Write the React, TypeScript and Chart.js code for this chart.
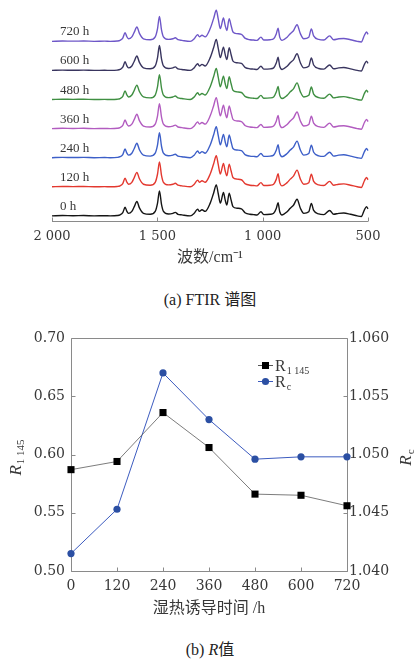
import React, { useEffect, useRef } from "react";
import { Chart, registerables } from "chart.js";

Chart.register(...registerables);

// ---------- (a) FTIR spectra ----------
const wavenumbers = [
  2000, 1950, 1900, 1850, 1800, 1750, 1724, 1690, 1677, 1664, 1653, 1645, 1637, 1621, 1610, 1597, 1585, 1566,
  1534, 1510, 1499, 1490, 1480, 1471, 1447, 1426, 1415, 1402, 1383, 1344, 1325, 1309, 1300, 1288, 1273, 1249,
  1233, 1220, 1211, 1201, 1186, 1178, 1170, 1159, 1150, 1141, 1122, 1101, 1082, 1060, 1043, 1027, 1008, 995,
  964, 948, 935, 927, 919, 908, 884, 869, 853, 837, 821, 805, 781, 769, 758, 734, 710, 682, 663, 639, 615, 583,
  551, 532, 517, 507, 500,
];
const absorbance = [
  0, 0.01, 0.005, 0.01, 0, 0.005, 0, 0.01, 0.03, 0.1, 0.27, 0.15, 0.08, 0.14, 0.28, 0.45, 0.25, 0.08,
  0.05, 0.14, 0.4, 0.78, 0.35, 0.14, 0.06, 0.08, 0.11, 0.05, 0.03, 0, 0.08, 0.21, 0.14, 0.19, 0.14, 0.4,
  0.71, 0.97, 0.7, 0.4, 0.73, 0.5, 0.34, 0.71, 0.5, 0.29, 0.24, 0.22, 0.09, 0.05, 0.04, 0.03, 0.13, 0.04,
  0.05, 0.08, 0.24, 0.41, 0.13, 0.03, 0.13, 0.24, 0.34, 0.52, 0.24, 0.08, 0.13, 0.39, 0.17, 0.06, 0.04, 0.17, 0.05, 0.08, 0.09, 0.05,
  0, -0.02, 0.19, 0.29, 0.22,
];
const spectrumLabels = ["0 h", "120 h", "240 h", "360 h", "480 h", "600 h", "720 h"];
const spectrumOffsets = [0, 0.91, 1.82, 2.73, 3.64, 4.55, 5.46];
const spectrumColors = ["#151515", "#e3382f", "#3d5fc8", "#b25cc0", "#3f8f42", "#39355f", "#6e57c8"];
const ftirTicks = [2000, 1500, 1000, 500];

// ---------- (b) R values ----------
const hours = [0, 120, 240, 360, 480, 600, 720];
const r1145 = [0.587, 0.594, 0.636, 0.606, 0.566, 0.565, 0.556];
const rc = [1.0415, 1.0453, 1.057, 1.053, 1.0496, 1.0498, 1.0498];

const SERIF = "'Liberation Serif', 'Noto Sans CJK SC', serif";
const TICKFONT = "'DejaVu Serif', serif";
const AXIS = "#8a8a8a";
const TEXT = "#383838";

function fmtWn(v: number) {
  const s = String(v);
  return s.length > 3 ? s.slice(0, s.length - 3) + " " + s.slice(s.length - 3) : s;
}

const ftirPlugin = {
  id: "ftirDecor",
  afterDraw(chart: any) {
    const { ctx, chartArea } = chart;
    const xs = chart.scales.x;
    const ys = chart.scales.y;
    ctx.save();
    ctx.strokeStyle = AXIS;
    ctx.lineWidth = 1;
    const yb = Math.round(chartArea.bottom) + 0.5;
    ctx.beginPath();
    ctx.moveTo(xs.getPixelForValue(2000), yb);
    ctx.lineTo(xs.getPixelForValue(500), yb);
    ftirTicks.forEach((t) => {
      const px = Math.round(xs.getPixelForValue(t)) + 0.5;
      ctx.moveTo(px, yb);
      ctx.lineTo(px, yb - 4);
    });
    ctx.stroke();
    ctx.fillStyle = TEXT;
    ctx.font = "13px 'Liberation Serif', serif";
    ctx.textBaseline = "alphabetic";
    ctx.textAlign = "left";
    spectrumLabels.forEach((lab, i) => {
      const y = ys.getPixelForValue(spectrumOffsets[i]) - 6;
      ctx.fillText(lab, chartArea.left + 8, y);
    });
    ctx.restore();
  },
};

const rPlugin = {
  id: "rDecor",
  beforeDatasetsDraw(chart: any) {
    const { ctx, chartArea } = chart;
    const { left, right, top, bottom } = chartArea;
    ctx.save();
    ctx.strokeStyle = AXIS;
    ctx.lineWidth = 1;
    const L = Math.round(left) + 0.5,
      R = Math.round(right) + 0.5,
      T = Math.round(top) + 0.5,
      B = Math.round(bottom) + 0.5;
    ctx.beginPath();
    ctx.rect(L, T, R - L, B - T);
    chart.scales.x.ticks.forEach((t: any) => {
      const px = Math.round(chart.scales.x.getPixelForValue(t.value)) + 0.5;
      ctx.moveTo(px, B);
      ctx.lineTo(px, B - 4);
    });
    chart.scales.y.ticks.forEach((t: any) => {
      const py = Math.round(chart.scales.y.getPixelForValue(t.value)) + 0.5;
      ctx.moveTo(L, py);
      ctx.lineTo(L + 4, py);
    });
    chart.scales.y1.ticks.forEach((t: any) => {
      const py = Math.round(chart.scales.y1.getPixelForValue(t.value)) + 0.5;
      ctx.moveTo(R, py);
      ctx.lineTo(R - 4, py);
    });
    ctx.stroke();
    ctx.restore();
  },
  afterDraw(chart: any) {
    const { ctx, chartArea } = chart;
    const cy = (chartArea.top + chartArea.bottom) / 2 + 3;
    ctx.save();
    ctx.fillStyle = TEXT;
    ctx.textBaseline = "middle";

    const drawTitle = (x: number, main: string, sub: string) => {
      ctx.save();
      ctx.translate(x, cy);
      ctx.rotate(-Math.PI / 2);
      ctx.font = "italic 17px 'Liberation Serif', serif";
      const w1 = ctx.measureText(main).width;
      ctx.font = "11px 'Liberation Serif', serif";
      const w2 = ctx.measureText(sub).width;
      const start = -(w1 + w2 + 1) / 2;
      ctx.textAlign = "left";
      ctx.textBaseline = "alphabetic";
      ctx.font = "italic 17px 'Liberation Serif', serif";
      ctx.fillText(main, start, 5.5);
      ctx.font = "11px 'Liberation Serif', serif";
      ctx.fillText(sub, start + w1 + 1, 9);
      ctx.restore();
    };
    drawTitle(15, "R", "1 145");
    drawTitle(405, "R", "c");

    // legend
    const rows = [
      { y: chartArea.top + 27, color: "#555", mk: "rect", fill: "#000", sub: "1 145" },
      { y: chartArea.top + 43, color: "#3c5bbf", mk: "circle", fill: "#2b4fa3", sub: "c" },
    ];
    const lx = chartArea.left + 187;
    rows.forEach((r) => {
      ctx.strokeStyle = r.color;
      ctx.lineWidth = 1;
      ctx.beginPath();
      ctx.moveTo(lx, r.y + 0.5);
      ctx.lineTo(lx + 15, r.y + 0.5);
      ctx.stroke();
      ctx.fillStyle = r.fill;
      if (r.mk === "rect") {
        ctx.fillRect(lx + 4, r.y - 3, 7, 7);
      } else {
        ctx.beginPath();
        ctx.arc(lx + 7.5, r.y + 0.5, 3.6, 0, Math.PI * 2);
        ctx.fill();
      }
      ctx.fillStyle = TEXT;
      ctx.textAlign = "left";
      ctx.textBaseline = "alphabetic";
      ctx.font = "16px 'Liberation Serif', serif";
      ctx.fillText("R", lx + 17, r.y + 6);
      const w = ctx.measureText("R").width;
      ctx.font = "10px 'Liberation Serif', serif";
      ctx.fillText(r.sub, lx + 17 + w + 1, r.y + 9);
    });
    ctx.restore();
  },
};

function FtirChart() {
  const ref = useRef<HTMLCanvasElement>(null);
  useEffect(() => {
    if (!ref.current) return;
    const chart = new Chart(ref.current, {
      type: "line",
      data: {
        datasets: spectrumLabels.map((lab, i) => ({
          label: lab,
          data: wavenumbers.map((w, j) => ({ x: w, y: absorbance[j] + spectrumOffsets[i] })),
          borderColor: spectrumColors[i],
          borderWidth: 1.4,
          pointRadius: 0,
          cubicInterpolationMode: "monotone" as const,
          fill: false,
          clip: false as any,
        })),
      },
      options: {
        animation: false,
        responsive: false,
        maintainAspectRatio: false,
        layout: { padding: { left: 52, right: 49, top: 10, bottom: 7.4 } },
        plugins: { legend: { display: false }, tooltip: { enabled: false } },
        scales: {
          x: {
            type: "linear",
            reverse: true,
            min: 500,
            max: 2000,
            afterBuildTicks: (s: any) => {
              s.ticks = ftirTicks.map((v) => ({ value: v }));
            },
            grid: { display: false, drawTicks: false },
            border: { display: false },
            ticks: {
              font: { family: TICKFONT, size: 13 },
              color: TEXT,
              padding: 8,
              maxRotation: 0,
              autoSkip: false,
              callback: (v: any) => fmtWn(Number(v)),
            },
            title: {
              display: true,
              text: "波数/cm⁻¹",
              font: { family: SERIF, size: 16 },
              color: TEXT,
              padding: 0,
            },
            afterFit: (s: any) => {
              s.height = 46.6;
            },
          },
          y: { display: false, min: -0.16, max: 6.44 },
        },
      },
      plugins: [ftirPlugin],
    } as any);
    return () => chart.destroy();
  }, []);
  return <canvas ref={ref} width={417} height={275} style={{ display: "block" }} />;
}

function RChart() {
  const ref = useRef<HTMLCanvasElement>(null);
  useEffect(() => {
    if (!ref.current) return;
    const chart = new Chart(ref.current, {
      type: "line",
      data: {
        datasets: [
          {
            label: "R1 145",
            yAxisID: "y",
            data: hours.map((h, i) => ({ x: h, y: r1145[i] })),
            borderColor: "#5a5a5a",
            borderWidth: 0.8,
            pointStyle: "rect",
            pointRadius: 5,
            pointBackgroundColor: "#000",
            pointBorderColor: "#000",
            pointBorderWidth: 0,
            tension: 0,
            clip: false as any,
          },
          {
            label: "Rc",
            yAxisID: "y1",
            data: hours.map((h, i) => ({ x: h, y: rc[i] })),
            borderColor: "#3c5bbf",
            borderWidth: 1,
            pointStyle: "circle",
            pointRadius: 3.6,
            pointBackgroundColor: "#2b4fa3",
            pointBorderColor: "#2b4fa3",
            pointBorderWidth: 0,
            tension: 0,
            clip: false as any,
          },
        ],
      },
      options: {
        animation: false,
        responsive: false,
        maintainAspectRatio: false,
        layout: { padding: { left: 0, right: 0, top: 18, bottom: 2 } },
        plugins: { legend: { display: false }, tooltip: { enabled: false } },
        scales: {
          x: {
            type: "linear",
            min: 0,
            max: 720,
            ticks: {
              stepSize: 120,
              font: { family: TICKFONT, size: 14 },
              color: TEXT,
              padding: 7,
              maxRotation: 0,
              autoSkip: false,
            },
            grid: { display: false, drawTicks: false },
            border: { display: false },
            title: {
              display: true,
              text: "湿热诱导时间 /h",
              font: { family: SERIF, size: 16 },
              color: TEXT,
              padding: 0,
            },
            afterFit: (s: any) => {
              s.height = 47;
            },
          },
          y: {
            position: "left",
            min: 0.5,
            max: 0.7,
            ticks: {
              stepSize: 0.05,
              font: { family: TICKFONT, size: 14 },
              color: TEXT,
              padding: 6,
              callback: (v: any) => Number(v).toFixed(2),
            },
            grid: { display: false, drawTicks: false },
            border: { display: false },
            afterFit: (s: any) => {
              s.width = 71;
            },
          },
          y1: {
            position: "right",
            min: 1.04,
            max: 1.06,
            ticks: {
              stepSize: 0.005,
              font: { family: TICKFONT, size: 14 },
              color: TEXT,
              padding: 2,
              callback: (v: any) => Number(v).toFixed(3),
            },
            grid: { display: false, drawTicks: false },
            border: { display: false },
            afterFit: (s: any) => {
              s.width = 70;
            },
          },
        },
      },
      plugins: [rPlugin],
    } as any);
    return () => chart.destroy();
  }, []);
  return <canvas ref={ref} width={417} height={300} style={{ display: "block" }} />;
}

export default function App() {
  const cap: React.CSSProperties = {
    position: "absolute",
    left: 0,
    width: 420,
    textAlign: "center",
    fontFamily: SERIF,
    fontSize: 16,
    lineHeight: "20px",
    color: "#222",
  };
  return (
    <div style={{ position: "absolute", left: 0, top: 0, width: 417, height: 660, background: "#fff", overflow: "hidden" }}>
      <div style={{ position: "absolute", left: 0, top: 0 }}>
        <FtirChart />
      </div>
      <div style={{ ...cap, top: 290 }}>(a) FTIR 谱图</div>
      <div style={{ position: "absolute", left: 0, top: 320 }}>
        <RChart />
      </div>
      <div style={{ ...cap, top: 640 }}>
        (b) <i>R</i>值
      </div>
    </div>
  );
}
